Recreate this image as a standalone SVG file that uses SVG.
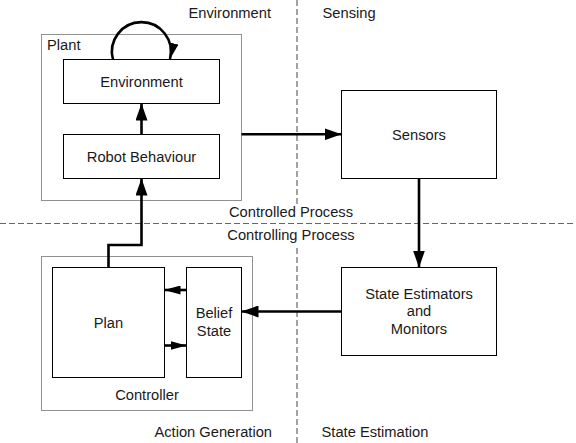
<svg xmlns="http://www.w3.org/2000/svg" width="576" height="443" viewBox="0 0 576 443">
  <style>
    text { font-family: "Liberation Sans", Arial, sans-serif; font-size: 14.7px; fill: #1a1a1a; }
    .mid { text-anchor: middle; }
    .end { text-anchor: end; }
    .box { fill: #ffffff; stroke: #000000; stroke-width: 1; }
    .group { fill: none; stroke: #222222; stroke-width: 1; stroke-dasharray: 1 1; }
    .divider { fill: none; stroke: #666666; stroke-width: 1.2; stroke-dasharray: 6 3; }
    .wire { fill: none; stroke: #000000; stroke-width: 2.6; }
  </style>
  <defs>
    <marker id="head" markerUnits="userSpaceOnUse" markerWidth="17" markerHeight="12" refX="17" refY="6" orient="auto">
      <path d="M0,0 L17,6 L0,12 z" fill="#000000"/>
    </marker>
    <marker id="head-small" markerUnits="userSpaceOnUse" markerWidth="16" markerHeight="9" refX="16" refY="4.5" orient="auto">
      <path d="M0,0 L16,4.5 L0,9 z" fill="#000000"/>
    </marker>
  </defs>

  <!-- quadrant dividers -->
  <g id="dividers">
    <line class="divider" x1="297" y1="0" x2="297" y2="205"/>
    <line class="divider" x1="297" y1="248" x2="297" y2="443"/>
    <line class="divider" x1="0" y1="223.5" x2="576" y2="223.5"/>
  </g>

  <!-- quadrant and process labels -->
  <g id="labels">
    <text class="end" x="271" y="18">Environment</text>
    <text x="322.5" y="18">Sensing</text>
    <text class="mid" x="291" y="217">Controlled Process</text>
    <text class="mid" x="291" y="240">Controlling Process</text>
    <text class="end" x="272" y="437">Action Generation</text>
    <text x="321.5" y="437">State Estimation</text>
  </g>

  <!-- plant grouping -->
  <g id="plant">
    <rect class="group" x="41.5" y="34.5" width="200" height="166"/>
    <text x="47" y="50">Plant</text>
  </g>

  <!-- controller grouping -->
  <g id="controller">
    <rect class="group" x="41.5" y="256.5" width="211" height="154"/>
    <text class="mid" x="147" y="400">Controller</text>
  </g>

  <g id="environment">
    <rect class="box" x="63.5" y="59.5" width="156" height="44"/>
    <text class="mid" x="141.5" y="86.5">Environment</text>
  </g>

  <g id="robot-behaviour">
    <rect class="box" x="63.5" y="134.5" width="156" height="44"/>
    <text class="mid" x="141.5" y="161.5">Robot Behaviour</text>
  </g>

  <g id="sensors">
    <rect class="box" x="341.5" y="90.5" width="155" height="88"/>
    <text class="mid" x="419" y="139.5">Sensors</text>
  </g>

  <g id="state-estimators">
    <rect class="box" x="341.5" y="267.5" width="155" height="88"/>
    <text class="mid" x="419" y="298.5">State Estimators</text>
    <text class="mid" x="419" y="316">and</text>
    <text class="mid" x="419" y="334">Monitors</text>
  </g>

  <g id="plan">
    <rect class="box" x="52.5" y="267.5" width="112" height="110"/>
    <text class="mid" x="108.5" y="327.5">Plan</text>
  </g>

  <g id="belief-state">
    <rect class="box" x="186.5" y="267.5" width="55" height="110"/>
    <text class="mid" x="214" y="318">Belief</text>
    <text class="mid" x="214" y="336">State</text>
  </g>

  <!-- connectors -->
  <g id="connectors">
    <!-- environment feeds back on itself -->
    <path class="wire" d="M113,59.5 A29.5,29.5 0 1 1 170,59" marker-end="url(#head-small)"/>
    <line class="wire" x1="141.5" y1="134.5" x2="141.5" y2="103.5" marker-end="url(#head)"/>
    <line class="wire" x1="241.5" y1="134.3" x2="341.5" y2="134.3" marker-end="url(#head)"/>
    <line class="wire" x1="419" y1="178.5" x2="419" y2="267.5" marker-end="url(#head)"/>
    <line class="wire" x1="341.5" y1="311.5" x2="241.5" y2="311.5" marker-end="url(#head)"/>
    <line class="wire" x1="186.5" y1="290" x2="164.5" y2="290" marker-end="url(#head-small)"/>
    <line class="wire" x1="164.5" y1="345.5" x2="186.5" y2="345.5" marker-end="url(#head-small)"/>
    <polyline class="wire" points="108.5,267.5 108.5,245 141.5,245 141.5,178.5" marker-end="url(#head)"/>
  </g>
</svg>
